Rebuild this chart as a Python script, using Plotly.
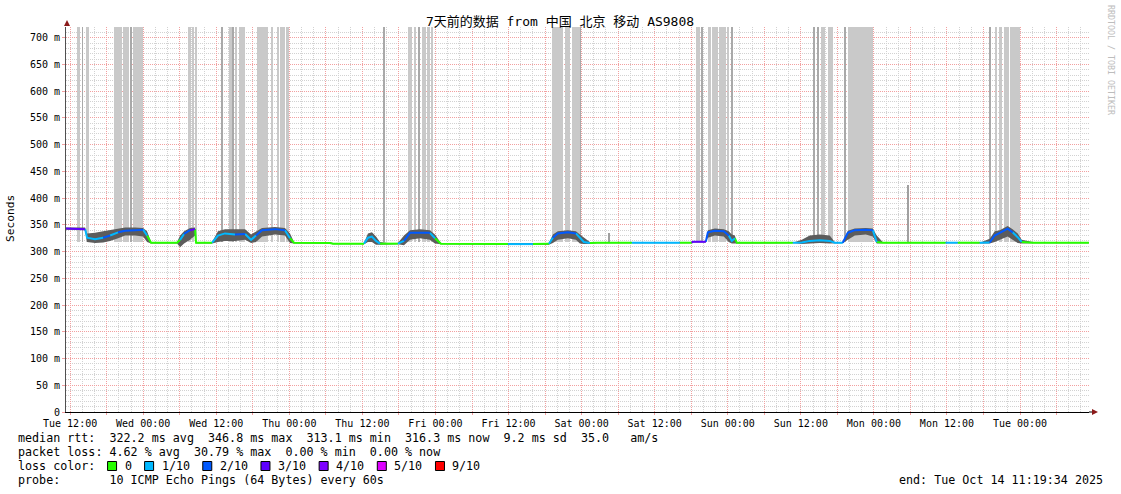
import pandas as pd
import plotly.graph_objects as go

# ---------------- data ----------------
TITLE = "7天前的数据 from 中国 北京 移动 AS9808"
T_START = "2025-10-07 11:19:34"
T_END = "2025-10-14 11:19:34"

# median rtt (ms), loss level of each sample, smoke envelope (ms)
med_time = [
    "2025-10-07 11:20", "2025-10-07 13:19", "2025-10-07 14:28", "2025-10-07 14:47", "2025-10-07 16:06",
    "2025-10-07 17:25", "2025-10-07 18:34", "2025-10-07 19:53", "2025-10-07 21:02", "2025-10-07 22:40",
    "2025-10-07 23:59", "2025-10-08 00:38", "2025-10-08 01:18", "2025-10-08 05:34", "2025-10-08 06:04",
    "2025-10-08 06:43", "2025-10-08 07:42", "2025-10-08 08:31", "2025-10-08 08:41", "2025-10-08 11:19",
    "2025-10-08 12:17", "2025-10-08 13:26", "2025-10-08 15:05", "2025-10-08 16:44", "2025-10-08 17:43",
    "2025-10-08 18:32", "2025-10-08 19:31", "2025-10-08 21:39", "2025-10-08 23:17", "2025-10-09 00:07",
    "2025-10-09 00:46", "2025-10-09 06:41", "2025-10-09 07:10", "2025-10-09 12:16", "2025-10-09 12:55",
    "2025-10-09 13:34", "2025-10-09 14:14", "2025-10-09 14:53", "2025-10-09 16:12", "2025-10-09 17:50",
    "2025-10-09 18:50", "2025-10-09 19:49", "2025-10-09 21:27", "2025-10-09 23:05", "2025-10-09 23:55",
    "2025-10-10 00:54", "2025-10-10 11:54", "2025-10-10 12:14", "2025-10-10 16:00", "2025-10-10 16:20",
    "2025-10-10 18:38", "2025-10-10 19:17", "2025-10-10 20:06", "2025-10-10 21:45", "2025-10-10 23:04",
    "2025-10-10 23:43", "2025-10-11 00:22", "2025-10-11 01:21", "2025-10-11 02:31", "2025-10-11 08:15",
    "2025-10-11 08:35", "2025-10-11 16:08", "2025-10-11 18:06", "2025-10-11 18:16", "2025-10-11 20:24",
    "2025-10-11 20:44", "2025-10-11 21:53", "2025-10-11 23:21", "2025-10-12 00:10", "2025-10-12 00:40",
    "2025-10-12 01:10", "2025-10-12 01:29", "2025-10-12 10:41", "2025-10-12 11:01", "2025-10-12 12:10",
    "2025-10-12 13:28", "2025-10-12 15:07", "2025-10-12 16:45", "2025-10-12 17:34", "2025-10-12 18:53",
    "2025-10-12 19:43", "2025-10-12 20:52", "2025-10-12 22:40", "2025-10-12 23:49", "2025-10-13 00:28",
    "2025-10-13 01:27", "2025-10-13 11:47", "2025-10-13 12:07", "2025-10-13 13:46", "2025-10-13 14:05",
    "2025-10-13 17:23", "2025-10-13 17:42", "2025-10-13 19:01", "2025-10-13 19:50", "2025-10-13 20:40",
    "2025-10-13 21:58", "2025-10-13 22:47", "2025-10-13 23:37", "2025-10-14 00:16", "2025-10-14 02:05",
    "2025-10-14 11:19",
]
med_ms = [
    343, 343, 342, 326, 323, 326, 330, 336, 339, 340,
    341, 330, 316.6, 316.6, 322, 333, 340, 342, 316.6, 316.6,
    330, 334, 332, 333, 322, 330, 340, 342, 340, 325,
    316.6, 316.0, 314.8, 314.8, 326, 328, 320, 314.8, 314.8, 314.8,
    320, 335, 335, 335, 325, 314.8, 314.0, 314.0, 314.0, 314.0,
    314.5, 326, 334, 336, 334, 325, 318, 316, 316.6, 316.6,
    316.6, 316.6, 316.6, 318.5, 318.5, 336, 339, 338, 330, 320,
    325, 316.6, 316.6, 316.6, 317, 320, 321, 320, 316.6, 316.6,
    335, 340, 341, 340, 318, 316.6, 316.6, 316.6, 316.6, 316.6,
    316.6, 316.6, 317, 330, 335, 343, 336, 327, 318, 316.6,
    316.3,
]
med_loss = [
    3, 3, 3, 1, 1, 1, 2, 1, 2, 2,
    2, 1, 0, 0, 0, 1, 2, 3, 0, 0,
    1, 1, 1, 2, 1, 1, 2, 2, 2, 1,
    0, 0, 0, 0, 1, 1, 1, 1, 0, 0,
    1, 2, 2, 2, 1, 0, 0, 1, 1, 0,
    0, 1, 2, 2, 2, 1, 1, 1, 0, 0,
    1, 1, 0, 3, 3, 2, 2, 2, 2, 1,
    1, 0, 0, 1, 1, 1, 1, 1, 1, 1,
    2, 2, 2, 2, 1, 0, 0, 1, 1, 0,
    0, 1, 1, 2, 2, 2, 2, 1, 1, 0,
    0,
]
smoke_lo = [
    341, 341, 340, 318, 316, 317, 320, 325, 330, 330,
    328, 318, 315, 315, 308, 315, 322, 330, 315, 315,
    318, 320, 320, 322, 316, 318, 328, 332, 330, 316,
    315, 314.5, 313.5, 313.5, 318, 318, 313, 313, 313.5, 313.5,
    312, 322, 325, 322, 315, 313.5, 313, 313, 313, 313,
    313, 316, 322, 325, 322, 315, 314, 314, 315.5, 315.5,
    315.5, 315.5, 315.5, 317, 317, 326, 330, 328, 318, 315,
    315, 315.5, 315.5, 315.5, 314, 315, 316, 315, 315.5, 315.5,
    322, 330, 332, 328, 315, 315.5, 315.5, 315.5, 315.5, 315.5,
    315.5, 315.5, 315, 318, 322, 328, 322, 316, 315, 315.5,
    315.5,
]
smoke_hi = [
    345, 345, 345, 334, 335, 338, 340, 343, 345, 345,
    344, 338, 318, 318, 330, 338, 344, 345, 318, 318,
    338, 342, 342, 342, 332, 338, 344, 346, 344, 334,
    318, 317.5, 316, 316, 334, 336, 328, 318, 316, 316,
    330, 340, 342, 340, 332, 316, 315.5, 315.5, 315.5, 315.5,
    316, 332, 338, 340, 338, 332, 326, 318, 318, 318,
    318, 318, 318, 320, 320, 340, 343, 342, 338, 332,
    330, 318, 318, 318, 322, 330, 332, 330, 318, 318,
    339, 343, 344, 343, 330, 318, 318, 318, 318, 318,
    318, 318, 324, 338, 340, 348, 342, 334, 322, 318,
    318,
]

# intervals with lost pings (smoke pushed to the top of the graph)
loss_start = [
    "2025-10-07 13:09", "2025-10-07 13:58", "2025-10-07 14:38", "2025-10-07 19:13", "2025-10-07 20:42",
    "2025-10-07 21:58", "2025-10-07 22:20", "2025-10-08 07:22", "2025-10-08 08:05", "2025-10-08 08:31",
    "2025-10-08 12:47", "2025-10-08 14:03", "2025-10-08 14:45", "2025-10-08 15:05", "2025-10-08 15:44",
    "2025-10-08 18:39", "2025-10-08 19:24", "2025-10-08 20:57", "2025-10-08 21:56", "2025-10-08 22:28",
    "2025-10-08 23:27", "2025-10-09 15:26", "2025-10-09 19:29", "2025-10-09 20:28", "2025-10-09 21:17",
    "2025-10-09 21:47", "2025-10-09 22:46", "2025-10-09 23:15", "2025-10-10 19:10", "2025-10-10 21:15",
    "2025-10-10 22:24", "2025-10-10 23:45", "2025-10-11 18:45", "2025-10-11 19:44", "2025-10-11 20:44",
    "2025-10-11 21:23", "2025-10-11 22:32", "2025-10-11 23:51", "2025-10-12 00:40", "2025-10-12 14:08",
    "2025-10-12 14:47", "2025-10-12 15:17", "2025-10-12 16:26", "2025-10-12 19:13", "2025-10-12 19:43",
    "2025-10-13 19:01", "2025-10-13 19:50", "2025-10-13 20:40", "2025-10-13 21:19", "2025-10-13 22:18",
]
loss_end = [
    "2025-10-07 13:38", "2025-10-07 14:05", "2025-10-07 15:04", "2025-10-07 20:32", "2025-10-07 21:41",
    "2025-10-07 22:08", "2025-10-07 23:56", "2025-10-08 07:49", "2025-10-08 08:18", "2025-10-08 08:48",
    "2025-10-08 12:57", "2025-10-08 14:35", "2025-10-08 14:52", "2025-10-08 15:22", "2025-10-08 16:44",
    "2025-10-08 19:18", "2025-10-08 20:30", "2025-10-08 21:17", "2025-10-08 22:18", "2025-10-08 23:14",
    "2025-10-09 00:00", "2025-10-09 15:33", "2025-10-09 20:08", "2025-10-09 20:48", "2025-10-09 21:27",
    "2025-10-09 22:26", "2025-10-09 23:05", "2025-10-09 23:35", "2025-10-10 20:53", "2025-10-10 22:04",
    "2025-10-10 23:43", "2025-10-10 23:53", "2025-10-11 19:25", "2025-10-11 19:55", "2025-10-11 21:13",
    "2025-10-11 22:22", "2025-10-11 23:41", "2025-10-12 00:11", "2025-10-12 00:50", "2025-10-12 14:17",
    "2025-10-12 14:57", "2025-10-12 15:56", "2025-10-12 17:15", "2025-10-12 19:23", "2025-10-12 23:49",
    "2025-10-13 19:11", "2025-10-13 20:10", "2025-10-13 20:59", "2025-10-13 22:08", "2025-10-14 00:03",
]
LOSS_FLOOR = 318   # ms, where the lost-ping smoke starts
GRAPH_TOP = 720    # ms

# isolated single-sample smoke spikes
spike_time = ["2025-10-11 04:34", "2025-10-13 05:37"]
spike_ms = [335, 425]
SPIKE_FLOOR = 316

y_ticks = [0, 50, 100, 150, 200, 250, 300, 350, 400, 450, 500, 550, 600, 650, 700]
y_tick_text = ["0"] + [f"{v} m" for v in y_ticks[1:]]

x_label_times = [
    "2025-10-07 12:00", "2025-10-08 00:00", "2025-10-08 12:00", "2025-10-09 00:00", "2025-10-09 12:00",
    "2025-10-10 00:00", "2025-10-10 12:00", "2025-10-11 00:00", "2025-10-11 12:00", "2025-10-12 00:00",
    "2025-10-12 12:00", "2025-10-13 00:00", "2025-10-13 12:00", "2025-10-14 00:00",
]
x_labels = [
    "Tue 12:00", "Wed 00:00", "Wed 12:00", "Thu 00:00", "Thu 12:00", "Fri 00:00", "Fri 12:00",
    "Sat 00:00", "Sat 12:00", "Sun 00:00", "Sun 12:00", "Mon 00:00", "Mon 12:00", "Tue 00:00",
]

loss_labels = ["0", "1/10", "2/10", "3/10", "4/10", "5/10", "9/10"]
loss_colors = ["#26ff00", "#00b8ff", "#0059ff", "#5e00ff", "#7e00ff", "#dd00ff", "#ff0000"]

stats_rtt = "median rtt:  322.2 ms avg  346.8 ms max  313.1 ms min  316.3 ms now  9.2 ms sd  35.0   am/s"
stats_loss = "packet loss: 4.62 % avg  30.79 % max  0.00 % min  0.00 % now"
loss_caption = "loss color:"
probe_line = "probe:       10 ICMP Echo Pings (64 Bytes) every 60s"
end_line = "end: Tue Oct 14 11:19:34 2025"
side_text = "RRDTOOL / TOBI OETIKER"
y_title = "Seconds"

# ---------------- layout geometry ----------------
W, H = 1121, 494
ML, MR, MT, MB = 66, 32, 27, 82
PW, PH = W - ML - MR, H - MT - MB
MONO = "DejaVu Sans Mono, Noto Sans CJK SC, monospace"


def px(x):
    return (x - ML) / PW


def py(y):
    return (H - MB - y) / PH


fig = go.Figure()

# lost-ping smoke bars
ls = pd.to_datetime(loss_start)
le = pd.to_datetime(loss_end)
durs = (le - ls)
widths = [d.total_seconds() * 1000 for d in durs]
centers = [a + (b - a) / 2 for a, b in zip(ls, le)]
bar_cols = ["#a9a9a9" if w <= 12 * 60000 else "#c9c9c9" for w in widths]
fig.add_trace(go.Bar(
    x=centers, y=[GRAPH_TOP - LOSS_FLOOR] * len(centers), base=LOSS_FLOOR, width=widths,
    marker=dict(color=bar_cols, line=dict(width=0)), showlegend=False, hoverinfo="skip"))

st = pd.to_datetime(spike_time)
fig.add_trace(go.Bar(
    x=list(st), y=[v - SPIKE_FLOOR for v in spike_ms], base=SPIKE_FLOOR, width=[600000] * len(st),
    marker=dict(color="#a0a0a0", line=dict(width=0)), showlegend=False, hoverinfo="skip"))

# smoke
fig.add_trace(go.Scatter(x=med_time, y=smoke_lo, mode="lines", line=dict(width=0, color="#707070"),
                         showlegend=False, hoverinfo="skip"))
fig.add_trace(go.Scatter(x=med_time, y=smoke_hi, mode="lines", line=dict(width=0, color="#707070"),
                         fill="tonexty", fillcolor="#5c5c5c", showlegend=False, hoverinfo="skip"))

# median coloured by loss
for lvl in sorted(set(med_loss)):
    xs, ys = [], []
    for i in range(1, len(med_time)):
        if med_loss[i] != lvl:
            continue
        if xs and xs[-1] == med_time[i - 1]:
            xs.append(med_time[i]); ys.append(med_ms[i])
        else:
            if xs:
                xs.append(None); ys.append(None)
            xs += [med_time[i - 1], med_time[i]]
            ys += [med_ms[i - 1], med_ms[i]]
    fig.add_trace(go.Scatter(x=xs, y=ys, mode="lines", line=dict(width=2, color=loss_colors[lvl]),
                             showlegend=False, hoverinfo="skip", connectgaps=False))

# ticks every 6 h (red grid), labels every 12 h
tick6 = pd.date_range(x_label_times[0], pd.Timestamp(x_label_times[-1]) + pd.Timedelta(hours=6), freq="6h")
lab_map = dict(zip(pd.to_datetime(x_label_times), x_labels))
tick_text = [lab_map.get(t, "") for t in tick6]

RED = "#f2a0a0"
GRAY = "#d2d2d2"

fig.update_layout(
    width=W, height=H,
    margin=dict(l=ML, r=MR, t=MT, b=MB),
    paper_bgcolor="white", plot_bgcolor="white",
    barmode="overlay", bargap=0,
    font=dict(family=MONO, size=10, color="black"),
    title=dict(text=TITLE, x=560 / W, xanchor="center", y=1 - 21 / H, yanchor="middle",
               font=dict(family=MONO, size=13, color="black")),
    xaxis=dict(
        type="date", range=[T_START, T_END],
        tickvals=list(tick6), ticktext=tick_text,
        showgrid=True, gridcolor=RED, griddash="1px,1px", gridwidth=1,
        minor=dict(dtick=2 * 3600 * 1000, tick0="2025-10-07 12:00", showgrid=True,
                   gridcolor=GRAY, griddash="1px,1px", gridwidth=1, ticks=""),
        ticks="outside", ticklen=2, tickcolor=RED,
        showline=True, linecolor="black", linewidth=1,
        zeroline=False, tickfont=dict(family=MONO, size=10),
    ),
    yaxis=dict(
        range=[0, GRAPH_TOP], tickvals=y_ticks, ticktext=y_tick_text,
        showgrid=True, gridcolor=RED, griddash="1px,1px", gridwidth=1,
        minor=dict(dtick=10, showgrid=True, gridcolor=GRAY, griddash="1px,1px", gridwidth=1, ticks=""),
        ticks="outside", ticklen=3, tickcolor=RED,
        showline=True, linecolor="#505050", linewidth=1,
        zeroline=False, tickfont=dict(family=MONO, size=10),
    ),
)

ann = []
ann.append(dict(text=y_title, x=px(10), y=py(219), xref="paper", yref="paper", showarrow=False,
                xanchor="center", yanchor="middle",
                textangle=-90, font=dict(family=MONO, size=11.2)))
ann.append(dict(text=side_text, x=px(1111), y=py(60), xref="paper", yref="paper", showarrow=False,
                xanchor="center", yanchor="middle",
                textangle=90, font=dict(family=MONO, size=8.3, color="#bdbdbd")))

LEG = 11.7
CH = LEG * 0.602
rows = [438, 452, 466, 480]
for txt, r in [(stats_rtt, rows[0]), (stats_loss, rows[1]), (loss_caption, rows[2]), (probe_line, rows[3])]:
    ann.append(dict(text=txt.replace(" ", "&nbsp;"), x=px(16), y=py(r), xref="paper", yref="paper",
                    xanchor="left", yanchor="middle", showarrow=False, font=dict(family=MONO, size=LEG)))
ann.append(dict(text=end_line.replace(" ", "&nbsp;"), x=px(1105), y=py(rows[3]), xref="paper", yref="paper",
                xanchor="right", yanchor="middle", showarrow=False, font=dict(family=MONO, size=LEG)))

shapes = []
cursor = 16 + 13 * CH
for lab, col in zip(loss_labels, loss_colors):
    shapes.append(dict(type="rect", xref="paper", yref="paper",
                       x0=px(cursor), x1=px(cursor + 9), y0=py(rows[2] + 4.5), y1=py(rows[2] - 4.5),
                       fillcolor=col, line=dict(color="black", width=1)))
    lx = cursor + 15
    ann.append(dict(text=lab, x=px(lx), y=py(rows[2]), xref="paper", yref="paper",
                    xanchor="left", yanchor="middle", showarrow=False, font=dict(family=MONO, size=LEG)))
    cursor = lx + len(lab) * CH + 15

# axis arrows
AR = "#8b1a1a"
shapes.append(dict(type="path", xref="paper", yref="paper",
                   path=f"M {px(64)},{py(26)} L {px(70)},{py(26)} L {px(67)},{py(20)} Z",
                   fillcolor=AR, line=dict(color=AR, width=0)))
shapes.append(dict(type="line", xref="paper", yref="paper", x0=px(1089), x1=px(1093), y0=0, y1=0,
                   line=dict(color="black", width=1)))
shapes.append(dict(type="path", xref="paper", yref="paper",
                   path=f"M {px(1092)},{py(409)} L {px(1092)},{py(415)} L {px(1098)},{py(412)} Z",
                   fillcolor=AR, line=dict(color=AR, width=0)))

fig.update_layout(annotations=ann, shapes=shapes)
fig.write_html("out.html", config={"displayModeBar": False},
               post_script="document.body.style.margin='0';document.body.style.overflow='hidden';")
